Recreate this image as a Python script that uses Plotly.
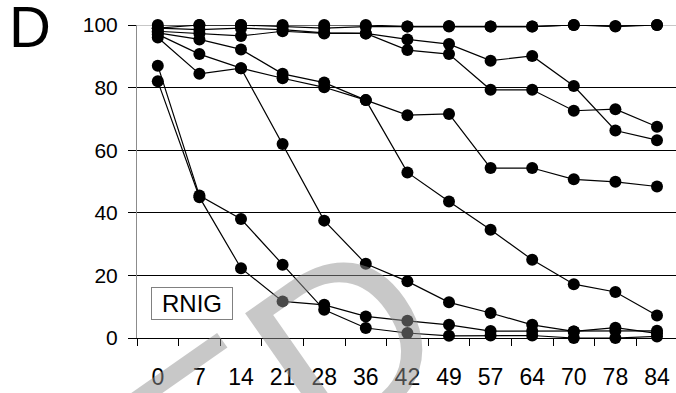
import plotly.graph_objects as go

# Sampling days (categorical x axis)
days = ["0", "7", "14", "21", "28", "36", "42", "49", "57", "64", "70", "78", "84"]

# Percent values for each curve
s1 = [100, 100, 100, 100, 100, 100, 99.5, 99.5, 99.5, 99.5, 100, 99.5, 100]
s2 = [99, 100, 100, 99.5, 99, 99.5, 99.5, 99.7, 99.5, 99.5, 100, 99.7, 100]
s3 = [99, 98.5, 99, 98.5, 97.5, 97.3, 92.0, 90.7, 79.3, 79.3, 72.6, 73.1, 67.5]
s4 = [98, 97.3, 96.5, 98, 97.3, 97.3, 95.4, 93.9, 88.6, 90.1, 80.5, 66.3, 63.2]
s5 = [97.5, 95.4, 92.2, 84.4, 81.6, 76.0, 71.2, 71.6, 54.3, 54.3, 50.7, 49.9, 48.4]
s6 = [97, 90.7, 86.2, 83.0, 80.1, 76.0, 52.9, 43.6, 34.6, 25.0, 17.2, 14.7, 7.2]
s7 = [96, 84.4, 86.2, 62.0, 37.5, 23.7, 18.1, 11.4, 8.0, 4.2, 2.1, 3.3, 1.5]
s8 = [87, 45.5, 38.0, 23.4, 9.0, 3.2, 1.6, 0.7, 0.8, 0.8, 0.0, 0.0, 0.5]
s9 = [82, 45.0, 22.3, 11.7, 10.6, 6.9, 5.5, 4.2, 2.2, 2.2, 2.1, 2.2, 2.3]

series = [s1, s2, s3, s4, s5, s6, s7, s8, s9]
y_ticks = [0, 20, 40, 60, 80, 100]

W, H = 676, 393
L, R, T, B = 137, 0, 25, 55
plot_w = W - L - R
plot_h = H - T - B
cat_step = 41.6


def px_to_paper(px, py):
    return (px - L) / plot_w, (H - B - py) / plot_h


fig = go.Figure()
for s in series:
    fig.add_trace(go.Scatter(
        x=days, y=s, mode="lines+markers",
        line=dict(color="black", width=1.2),
        marker=dict(color="black", size=12),
        cliponaxis=False, showlegend=False,
    ))

x_right = -0.5 + plot_w / cat_step

fig.update_layout(
    width=W, height=H,
    margin=dict(l=L, r=R, t=T, b=B, pad=0),
    paper_bgcolor="white", plot_bgcolor="white",
    font=dict(family="Liberation Sans, Arial, sans-serif", color="black"),
    xaxis=dict(
        type="category", categoryorder="array", categoryarray=days,
        range=[-0.5, x_right],
        showgrid=False, zeroline=False,
        showline=True, linecolor="black", linewidth=1,
        ticks="outside", tickson="boundaries", ticklen=7,
        tickcolor="black", tickwidth=1,
        tickfont=dict(size=23),
        ticklabelstandoff=18,
    ),
    yaxis=dict(
        range=[0, 100], tickvals=y_ticks,
        showgrid=True, gridcolor="black", gridwidth=1,
        zeroline=False,
        showline=True, linecolor="#8c8c8c", linewidth=1,
        ticks="outside", ticklen=8, tickcolor="black", tickwidth=1,
        tickfont=dict(size=21),
        ticklabelstandoff=6,
    ),
)

# lighter top gridline
fig.add_shape(type="line", xref="paper", yref="y", x0=0, x1=1, y0=100, y1=100,
              line=dict(color="#b4b4b4", width=1.5), layer="between")

# panel letter
dx, dy = px_to_paper(7, 27)
fig.add_annotation(text="D", xref="paper", yref="paper", x=dx, y=dy,
                   xanchor="left", yanchor="middle", showarrow=False,
                   font=dict(size=58, family="Liberation Sans, Arial, sans-serif"))

# group label box
rx, ry = px_to_paper(191.5, 303)
fig.add_annotation(text="RNIG", xref="paper", yref="paper", x=rx, y=ry,
                   xanchor="center", yanchor="middle", showarrow=False,
                   font=dict(size=24), width=78, height=29, borderpad=1,
                   bordercolor="#808080", borderwidth=1, bgcolor="white")

# watermark
wx, wy = px_to_paper(280, 386)
fig.add_annotation(text="ED", xref="paper", yref="paper", x=wx, y=wy,
                   xanchor="center", yanchor="middle", showarrow=False,
                   textangle=-35,
                   font=dict(size=235, color="rgba(146,146,146,0.5)",
                             family="Liberation Sans, Arial, sans-serif"))

fig.write_html("out.html")
